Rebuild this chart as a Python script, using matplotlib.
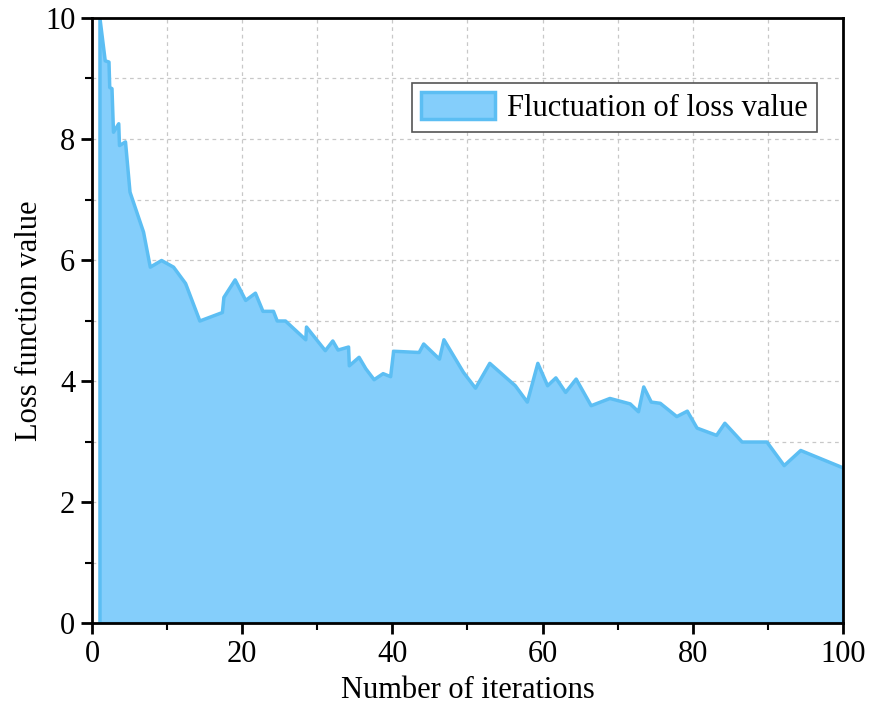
import matplotlib
matplotlib.use("Agg")
import matplotlib.pyplot as plt
from matplotlib.ticker import MultipleLocator

plt.rcParams['font.family'] = ['Liberation Serif', 'DejaVu Serif']
plt.rcParams['mathtext.fontset'] = 'stix'

iterations = [1.0, 1.7, 2.2, 2.3, 2.6, 2.8, 3.5, 3.6, 4.4, 5.0, 6.8, 7.7, 9.2, 10.8,
              12.4, 14.3, 17.3, 17.5, 19.0, 20.4, 21.7, 22.7, 24.1, 24.6, 25.7, 28.4,
              28.5, 31.0, 32.0, 32.7, 34.1, 34.2, 35.5, 36.4, 37.5, 38.7, 39.7, 40.1,
              43.5, 44.1, 46.2, 46.8, 49.4, 51.0, 52.9, 56.3, 57.9, 59.3, 60.6, 61.7,
              63.0, 64.4, 66.4, 68.9, 71.6, 72.7, 73.4, 74.4, 75.6, 77.8, 79.2, 80.5,
              83.1, 84.2, 86.5, 89.8, 92.1, 94.3, 100.0]
loss = [10.0, 9.30, 9.28, 8.86, 8.84, 8.12, 8.26, 7.90, 7.96, 7.13, 6.47, 5.89, 6.00, 5.89,
        5.62, 5.00, 5.14, 5.39, 5.68, 5.34, 5.46, 5.16, 5.16, 5.00, 5.00, 4.69,
        4.90, 4.51, 4.67, 4.52, 4.57, 4.26, 4.40, 4.21, 4.03, 4.13, 4.08, 4.50,
        4.48, 4.62, 4.37, 4.69, 4.15, 3.89, 4.30, 3.93, 3.66, 4.30, 3.93, 4.06,
        3.82, 4.04, 3.60, 3.72, 3.63, 3.50, 3.91, 3.66, 3.64, 3.42, 3.51, 3.23,
        3.11, 3.31, 3.00, 3.00, 2.61, 2.86, 2.57]
legend_label = "Fluctuation of loss value"

fig = plt.figure(figsize=(8.7, 7.08), dpi=100)
ax = fig.add_axes([0.1057, 0.12, 0.8633, 0.8546])

ax.fill_between(iterations, 0, loss, facecolor='#84CEFB', edgecolor='#5CBEF3',
                linewidth=2.5, label=legend_label, zorder=2)

ax.set_xlim(0, 100)
ax.set_ylim(0, 10)
ax.xaxis.set_major_locator(MultipleLocator(20))
ax.xaxis.set_minor_locator(MultipleLocator(10))
ax.yaxis.set_major_locator(MultipleLocator(2))
ax.yaxis.set_minor_locator(MultipleLocator(1))

ax.grid(True, which='both', linestyle=(0, (3, 3)), color='#c8c8c8', linewidth=0.9, zorder=0)
ax.set_axisbelow(True)

ax.tick_params(axis='both', which='major', direction='out', length=8, width=2,
               labelsize=22, pad=4)
ax.tick_params(axis='both', which='minor', direction='out', length=5, width=1.5)
for s in ax.spines.values():
    s.set_linewidth(2)
    s.set_zorder(5)

ax.set_xlabel("Number of iterations", fontsize=22, labelpad=5)
ax.set_ylabel("Loss function value", fontsize=22, labelpad=1)

leg = ax.legend(loc='upper right', bbox_to_anchor=(0.965, 0.893), borderaxespad=0,
                fontsize=22, fancybox=False, framealpha=1, edgecolor='#555555',
                handlelength=2.4, handleheight=1.0, borderpad=0.3, handletextpad=0.4)
leg.get_frame().set_linewidth(1.2)

fig.savefig("out.png", dpi=100)
